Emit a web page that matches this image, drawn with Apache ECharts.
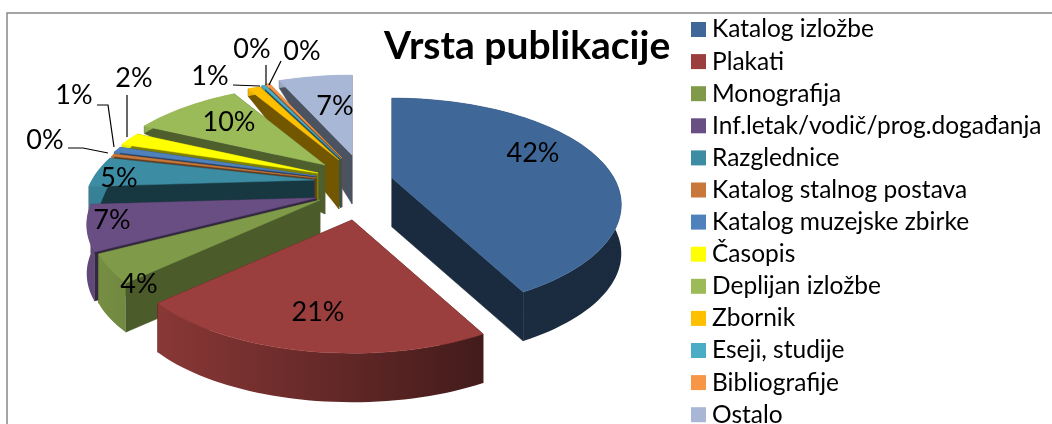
<!DOCTYPE html>
<html><head><meta charset="utf-8">
<style>html,body{margin:0;padding:0;background:#fff}#c{width:1052px;height:424px}</style>
<script src="https://cdn.jsdelivr.net/npm/echarts@6/dist/echarts.min.js"></script>
</head><body><div id="c"></div>
<script>
const categories = ['Katalog izložbe','Plakati','Monografija','Inf.letak/vodič/prog.događanja','Razglednice','Katalog stalnog postava','Katalog muzejske zbirke','Časopis','Deplijan izložbe','Zbornik','Eseji, studije','Bibliografije','Ostalo'];
const values = [42.4,20.5,4.2,6.9,4.7,0.4,0.9,2.1,9.6,1.1,0.3,0.3,6.6];
const colors = ['#3f6797','#9a3f3d','#7f9a48','#684e83','#3c8ca3','#c8783a','#4f81bd','#ffff00','#9bbb59','#ffc000','#4bacc6','#f79646','#a7b7d5'];
// style and layout (not data)
const cutShade = [0.42,0.5,0.59,0.5,0.4,0.5,0.5,0.5,0.5,0.45,0.5,0.5,0.45];
const paintOrder = [12,11,10,9,8,7,6,5,4,3,2,0,1];
const sliceApex = [[392,178],[352,220],[320,200],[316,198],[314,180],[316,178],[316,176],[318,173],[325,165],[339,160],[341,159],[342,158],[352,155]];
const labelPos = [[533,153],[318,312],[139,284],[112,220],[119,178],[45,140],[74,95],[134,78],[229,122],[210,76],[252,49],[302,51],[335,106]];
const leaders = [null,null,null,null,null,[[68,148],[83,148],[108,153]],[[97,105],[108,105],[114,147]],[[127,95],[127,137]],null,[[233,85],[260,86]],[[266,65],[266,85]],[[281,61],[269,85]],null];
const R = 222, K = 0.45, P = 0.25, H = 49;

const total = values.reduce((a,b)=>a+b,0);
const starts = []; values.reduce((acc,v,i)=>{starts[i]=acc;return acc+v;},0);

function shade(hex,f){const n=parseInt(hex.slice(1),16);const c=[n>>16,(n>>8)&255,n&255].map(x=>Math.round(x*f));return 'rgb('+c.join(',')+')';}
function light(t){const d=t*180/Math.PI;return Math.max(0.42,Math.min(0.92,0.42+(d-150)/75*0.46));}
function depth(t,r){return H*(1-0.85*r*Math.min(1,Math.max(0,Math.cos(t))/0.4));}

function sliceShapes(i,val){
  const a0=starts[i]/total*Math.PI*2, a1=(starts[i]+val)/total*Math.PI*2;
  const ax=sliceApex[i][0], ay=sliceApex[i][1];
  const pt=(t,r,z)=>{const s=1/(1+P*r*Math.cos(t));return [ax+R*r*Math.sin(t)*s,ay-K*R*r*Math.cos(t)*s+z];};
  const n=Math.max(4,Math.ceil((a1-a0)/0.03));
  const top=[pt(a0,0,0)],wallT=[],wallB=[];
  for(let j=0;j<=n;j++){const t=a0+(a1-a0)*j/n;const p=pt(t,1,0);top.push(p);wallT.push(p);wallB.push(pt(t,1,depth(t,1)));}
  const col=colors[i], cut=shade(col,cutShade[i]);
  const el=[];
  const quad=(t)=>[pt(t,0,0),pt(t,1,0),pt(t,1,depth(t,1)),pt(t,0,H)];
  [a0,a1].forEach(t=>el.push({type:'polygon',shape:{points:quad(t)},style:{fill:cut,stroke:cut,lineWidth:0.5}}));
  el.push({type:'polygon',shape:{points:wallT.concat(wallB.reverse())},style:{
    fill:{type:'linear',x:0,y:0,x2:1,y2:0,colorStops:[{offset:0,color:shade(col,light(a1))},{offset:1,color:shade(col,light(a0))}]},lineWidth:0}});
  el.push({type:'polygon',shape:{points:top},style:{fill:col,stroke:col,lineWidth:0.5}});
  return {type:'group',children:el};
}

const series = categories.map((name,i)=>({
  name, type:'custom', coordinateSystem:'none', z:2+paintOrder.indexOf(i),
  itemStyle:{color:colors[i]}, silent:true,
  data:[[values[i]]],
  renderItem:(params,api)=>sliceShapes(i,api.value(0))
}));
series.push({
  name:'labels', type:'custom', coordinateSystem:'none', z:40, silent:true,
  data:values.map(v=>[v]),
  renderItem:(params,api)=>{
    const i=params.dataIndex, ch=[];
    if(leaders[i]) ch.push({type:'polyline',shape:{points:leaders[i]},style:{stroke:'#000',lineWidth:1.2,fill:null}});
    ch.push({type:'text',x:labelPos[i][0],y:labelPos[i][1],style:{
      text:Math.round(api.value(0)/total*100)+'%',fill:'#000',font:'27px Lato',align:'center',verticalAlign:'middle'}});
    return {type:'group',children:ch};
  }
});

const chart=echarts.init(document.getElementById('c'),null,{renderer:'canvas'});
chart.setOption({
  animation:false,
  title:{text:'Vrsta publikacije',left:384,top:27,padding:0,textStyle:{fontFamily:'Lato',fontWeight:'bold',fontSize:39,color:'#000'}},
  legend:{orient:'vertical',left:691,top:17,height:440,padding:0,itemWidth:15,itemHeight:15,itemGap:7.1,icon:'rect',selectedMode:false,
    data:categories,textStyle:{fontFamily:'Lato',fontSize:24.5,color:'#000',padding:[0,0,0,1]}},
  graphic:[{type:'rect',z:0,silent:true,shape:{x:7,y:13,width:1100,height:500},style:{fill:'#fff',stroke:'#888',lineWidth:1.5}}],
  series
});
</script></body></html>
